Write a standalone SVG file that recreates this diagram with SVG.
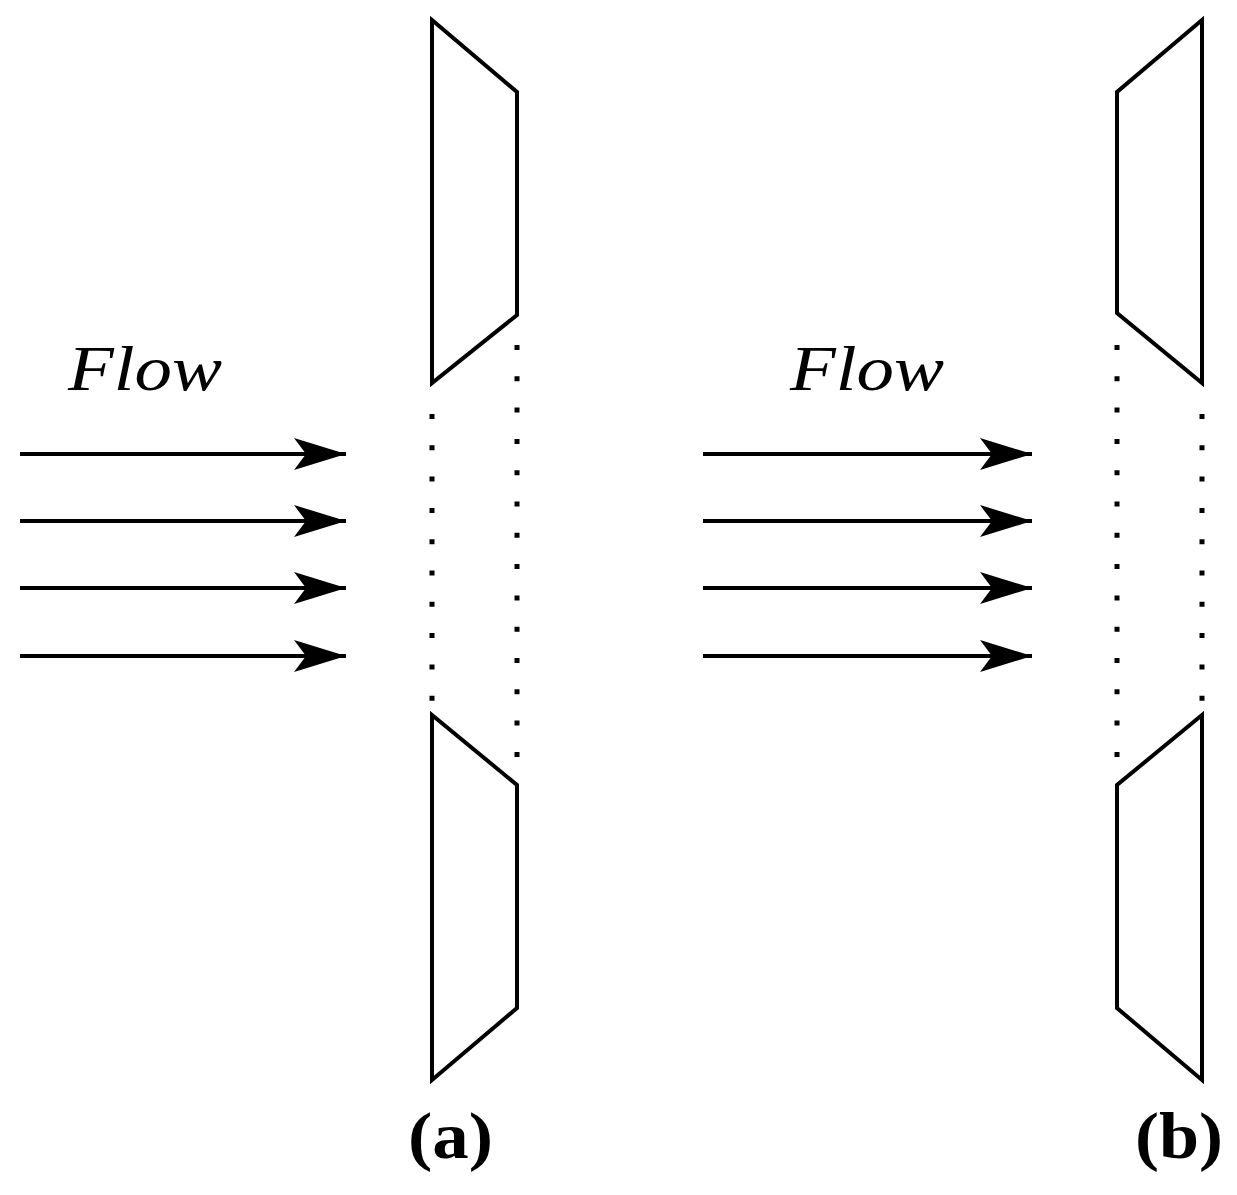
<svg xmlns="http://www.w3.org/2000/svg" width="1237" height="1195" viewBox="0 0 1237 1195">
<style>
.s{fill:none;stroke:#000;stroke-width:4;stroke-linejoin:miter}
.d{fill:none;stroke:#000;stroke-width:5;stroke-dasharray:5 26.3}
.a{stroke:#000;stroke-width:4}
.f{font-family:"Liberation Serif",serif;font-style:italic;font-size:64px}
.l{font-family:"Liberation Serif",serif;font-weight:bold;font-size:66px}
</style>
<defs>
<marker id="ah" markerUnits="userSpaceOnUse" markerWidth="60" markerHeight="40" refX="52" refY="17" orient="auto">
<path d="M0,1 L52,17 L0,33 L12,17 Z" fill="#000"/>
</marker>
</defs>
<rect width="1237" height="1195" fill="#fff"/>
<g id="a-top"><polygon class="s" points="432,20 517,92 517,315 432,383"/></g>
<g id="a-bottom"><polygon class="s" points="432,715 517,785 517,1008 432,1080"/></g>
<g id="b-top"><polygon class="s" points="1202,20 1117,92 1117,313 1202,383"/></g>
<g id="b-bottom"><polygon class="s" points="1202,715 1117,785 1117,1008 1202,1080"/></g>
<g id="dots">
<line class="d" x1="432" y1="414" x2="432" y2="705"/>
<line class="d" x1="517" y1="345" x2="517" y2="770"/>
<line class="d" x1="1117" y1="345" x2="1117" y2="770"/>
<line class="d" x1="1202" y1="414" x2="1202" y2="705"/>
</g>
<g id="connectors">
<line class="a" x1="20" y1="454" x2="346" y2="454" marker-end="url(#ah)"/>
<line class="a" x1="20" y1="521" x2="346" y2="521" marker-end="url(#ah)"/>
<line class="a" x1="20" y1="588" x2="346" y2="588" marker-end="url(#ah)"/>
<line class="a" x1="20" y1="656" x2="346" y2="656" marker-end="url(#ah)"/>
<line class="a" x1="703" y1="454" x2="1032" y2="454" marker-end="url(#ah)"/>
<line class="a" x1="703" y1="521" x2="1032" y2="521" marker-end="url(#ah)"/>
<line class="a" x1="703" y1="588" x2="1032" y2="588" marker-end="url(#ah)"/>
<line class="a" x1="703" y1="656" x2="1032" y2="656" marker-end="url(#ah)"/>
</g>
<text class="f" x="68" y="390" textLength="154" lengthAdjust="spacingAndGlyphs">Flow</text>
<text class="f" x="790" y="390" textLength="154" lengthAdjust="spacingAndGlyphs">Flow</text>
<text class="l" x="408" y="1158" textLength="85" lengthAdjust="spacingAndGlyphs">(a)</text>
<text class="l" x="1135" y="1158" textLength="88" lengthAdjust="spacingAndGlyphs">(b)</text>
</svg>
